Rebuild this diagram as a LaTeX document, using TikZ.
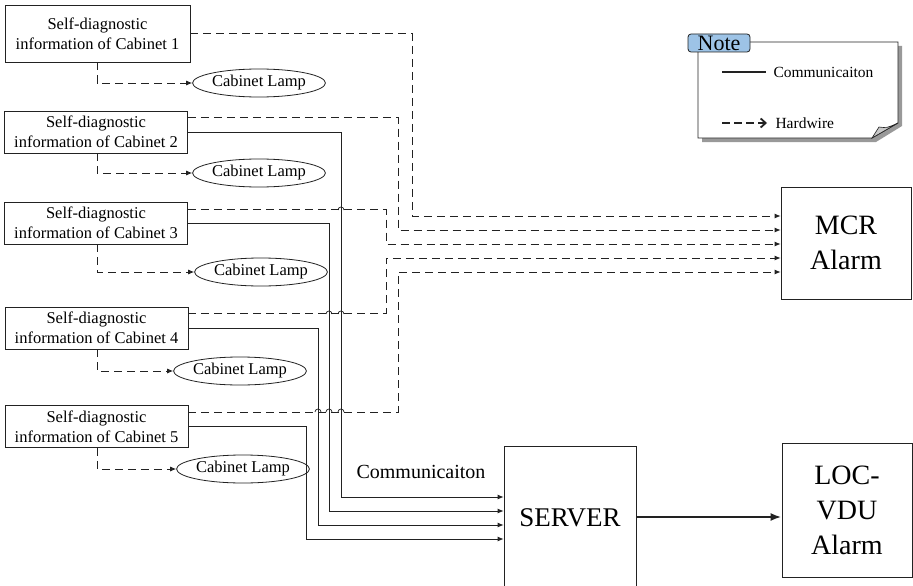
\documentclass[tikz,border=0pt]{standalone}
\usepackage{fontspec}
\setmainfont{Liberation Serif}
\usetikzlibrary{arrows.meta,positioning,calc,shapes.geometric}
\definecolor{NoteBlue}{HTML}{9DC3E6}
\definecolor{FoldGrey}{HTML}{C8C8C8}
\definecolor{Ink}{HTML}{222222}
\tikzset{
    every node/.style={font=\rmfamily\fontsize{16.5}{20}\selectfont, text=black},
    cabbox/.style={
        draw=Ink, line width=0.8pt,
        minimum width=183pt, minimum height=42pt,
        inner sep=0pt, align=center
    },
    lampnode/.style={
        draw=Ink, ellipse, line width=0.8pt,
        minimum width=116pt, minimum height=28pt, inner sep=0pt
    },
    alarmbox/.style={
        draw=Ink, line width=0.8pt, minimum width=130pt,
        align=center, font=\rmfamily\fontsize{28}{35}\selectfont
    },
    hardwire/.style={
        -{Latex[length=6pt,width=5pt]}, Ink, line width=0.8pt,
        dash pattern=on 8pt off 5pt
    },
    commline/.style={
        -{Latex[length=6pt,width=5pt]}, Ink, line width=0.8pt
    },
}

\begin{document}
\begin{tikzpicture}[x=1pt,y=-1pt]
    \useasboundingbox (0,0) rectangle (913,586);

    % Cabinets
    \node[cabbox, minimum width=185pt, minimum height=57pt] (cab1) at (97.5,33.5) {Self-diagnostic\\information of Cabinet 1};
    \node[cabbox] (cab2) at (96,132) {Self-diagnostic\\information of Cabinet 2};
    \node[cabbox] (cab3) at (96,223) {Self-diagnostic\\information of Cabinet 3};
    \node[cabbox] (cab4) at (96.5,328) {Self-diagnostic\\information of Cabinet 4};
    \node[cabbox] (cab5) at (96.5,426.5) {Self-diagnostic\\information of Cabinet 5};

    % Cabinet lamps
    \node[lampnode] (lamp1) at (259,83) {Cabinet Lamp};
    \node[lampnode] (lamp2) at (259,173) {Cabinet Lamp};
    \node[lampnode] (lamp3) at (261,272) {Cabinet Lamp};
    \node[lampnode] (lamp4) at (240,371) {Cabinet Lamp};
    \node[lampnode] (lamp5) at (243,469) {Cabinet Lamp};

    \foreach \i in {1,...,5}
        \draw[hardwire] (97,0 |- cab\i.south) |- (lamp\i.west);

    % Alarm side
    \node[alarmbox, minimum height=112pt] (mcr) at (846,243) {MCR\\Alarm};
    \node[alarmbox, minimum width=132pt, minimum height=144pt, font=\rmfamily\fontsize{27}{35}\selectfont] (server) at (570,518) {SERVER};
    \node[alarmbox, minimum height=134pt] (locvdu) at (847,510) {LOC-\\VDU\\Alarm};

    % Hardwire to MCR
    \draw[hardwire] (cab1.east) -| (412,216) -- (mcr.west |- 0,216);
    \draw[hardwire] ([yshift=-7pt]cab2.north east) -| (398,230) -- (mcr.west |- 0,230);
    \draw[hardwire] ([yshift=-8pt]cab3.north east) -| (386,244) -- (mcr.west |- 0,244);
    \draw[hardwire] ([yshift=-7pt]cab4.north east) -| (386,258) -- (mcr.west |- 0,258);
    \draw[hardwire] ([yshift=-7pt]cab5.north east) -| (398,272) -- (mcr.west |- 0,272);

    % Communication to server
    \draw[commline] (cab2.east) -| (341,497) -- (server.west |- 0,497);
    \draw[commline] (cab3.east) -| (329,511) -- (server.west |- 0,511);
    \draw[commline] (cab4.east) -| (318,525) -- (server.west |- 0,525);
    \draw[commline] (cab5.east) -| (306,539) -- (server.west |- 0,539);

    % hops where dashed lines pass the solid ones
    \foreach \hx/\hy in {341/210, 329/314, 341/314, 318/412, 329/412, 341/412}
        \draw[Ink, line width=0.7pt] (\hx-3,\hy) arc[start angle=180, end angle=0, radius=3pt];

    \node[font=\rmfamily\fontsize{20}{24}\selectfont] (commlabel) at (421,472) {Communicaiton};

    \draw[-{Latex[length=11pt,width=8pt]}, Ink, line width=2.6pt] (server.east |- 0,517) -- (locvdu.west |- 0,517);

    % Note
    \fill[black!40] (702,46) -- (902,46) -- (902,126) -- (876,142) -- (702,142) -- cycle;
    \draw[Ink, fill=white, line width=0.8pt] (698,42) -- (898,42) -- (898,123) -- (872,138) -- (698,138) -- cycle;
    \draw[Ink, fill=FoldGrey, line width=0.6pt] (872,138) -- (879,127) .. controls (887,128) .. (898,123) -- cycle;
    \node[draw=Ink, fill=NoteBlue, rounded corners=3pt, line width=0.8pt, inner sep=0pt,
          minimum width=62pt, minimum height=18pt, font=\rmfamily\fontsize{22}{22}\selectfont] (notetab) at (719,43) {Note};

    \coordinate (commA) at (722,72);
    \coordinate (commB) at (766,72);
    \draw[Ink, line width=2pt] (commA) -- (commB);
    \node[anchor=west, font=\rmfamily\fontsize{15.5}{18}\selectfont] (commtxt) at (770,72) {Communicaiton};

    \coordinate (hwA) at (722,123);
    \coordinate (hwB) at (767,123);
    \draw[-{Straight Barb[length=5pt,width=9pt]}, Ink, line width=1.8pt, dash pattern=on 8pt off 4pt] (hwA) -- (hwB);
    \node[anchor=west, font=\rmfamily\fontsize{15.5}{18}\selectfont] (hwtxt) at (772,123) {Hardwire};
\end{tikzpicture}
\end{document}
